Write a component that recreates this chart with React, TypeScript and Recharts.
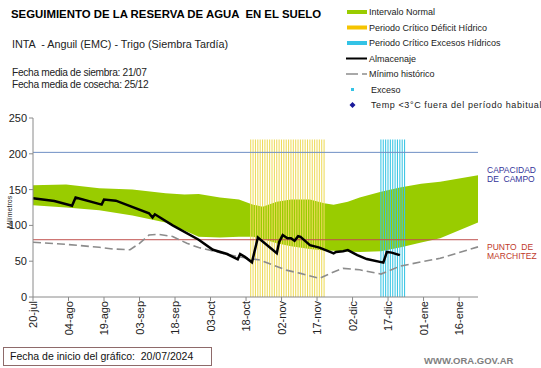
import React from "react";
import {
  ComposedChart,
  XAxis,
  YAxis,
  Area,
  Line,
  Bar,
  Cell,
  ReferenceLine,
} from "recharts";

// days counted from 20-jul
const tickDays = [0, 15, 30, 45, 60, 75, 90, 105, 120, 135, 150, 165, 180];
const tickLabels = [
  "20-jul", "04-ago", "19-ago", "03-sep", "18-sep", "03-oct", "18-oct",
  "02-nov", "17-nov", "02-dic", "17-dic", "01-ene", "16-ene",
];
const yTicks = [0, 50, 100, 150, 200, 250];

// intervalo normal (green band)
const bandDays = [0, 14, 28, 42, 56, 64, 70, 79, 87, 93, 97, 103, 109, 117, 123, 127, 133, 138, 147, 155, 164, 172, 188];
const bandHigh = [156, 157, 152, 150, 145, 143, 144, 139, 136, 129, 126, 133, 136, 136, 131, 129, 133, 139, 147, 153, 158, 161, 170];
const bandLow = [128, 125, 121, 114, 104, 93, 84, 83, 84, 84, 81, 75, 71, 67, 65, 64.5, 63.5, 63, 64, 69, 76, 82, 104];

// almacenaje
const storDays = [0, 9, 16.5, 18, 29, 30, 35, 49, 50.5, 51.5, 59, 70, 76, 82, 86.5, 87.5, 89.5, 92.5, 95, 103, 104, 105.5, 107.5, 109, 110.5, 112, 113, 117, 121, 125.5, 127, 128, 131, 133, 137, 141, 148, 149.5, 151.5, 155];
const storVals = [138, 134, 127.5, 139, 129, 136, 134.5, 117, 111, 115.5, 100, 80, 66, 60, 52.5, 60, 56, 48.5, 83, 61, 77, 86.5, 82, 82, 78.5, 85, 84, 72.5, 69, 63, 61, 63, 64, 65.5, 58.5, 53, 48, 63, 62, 58.5];

// minimo historico
const minDays = [0, 14, 28, 34, 41, 45, 49, 53, 59, 65, 70, 79, 87, 96, 107, 113, 121, 127, 131, 138, 147, 155, 164, 172, 188];
const minVals = [76.5, 73.5, 69.5, 67, 66, 75, 86.5, 87.5, 84.5, 75, 69, 62, 56, 51.5, 37.5, 33, 26, 35, 40, 38, 32, 43, 49, 54, 70];

// periodos criticos
const deficitPeriod = [92, 123];
const excessPeriod = [147, 157];
const periodTop = 220;

const capacidadCampo = 202;
const puntoMarchitez = 80;

type Row = {
  day: number;
  band?: [number, number];
  stor?: number;
  min?: number;
  period?: number;
  kind?: "deficit" | "excess";
};

function buildRows(): Row[] {
  const map = new Map<number, Row>();
  const get = (d: number) => {
    if (!map.has(d)) map.set(d, { day: d });
    return map.get(d)!;
  };
  bandDays.forEach((d, i) => (get(d).band = [bandLow[i], bandHigh[i]]));
  storDays.forEach((d, i) => (get(d).stor = storVals[i]));
  minDays.forEach((d, i) => (get(d).min = minVals[i]));
  for (let d = deficitPeriod[0]; d <= deficitPeriod[1]; d++) {
    get(d).period = periodTop;
    get(d).kind = "deficit";
  }
  for (let d = excessPeriod[0]; d <= excessPeriod[1]; d++) {
    get(d).period = periodTop;
    get(d).kind = "excess";
  }
  return Array.from(map.values()).sort((a, b) => a.day - b.day);
}

const rows = buildRows();

function DayTick(props: any) {
  const { x, y, payload } = props;
  const label = tickLabels[tickDays.indexOf(payload.value)];
  return (
    <g transform={`translate(${x},${y})`}>
      <text transform="rotate(-90)" x={2} dy={4} textAnchor="end" fontSize={11} fill="#222">
        {label}
      </text>
    </g>
  );
}

const legendRows = [
  { kind: "bar", color: "#99cc00", text: "Intervalo Normal" },
  { kind: "bar", color: "#f5c400", text: "Periodo Crítico Déficit Hídrico" },
  { kind: "bar", color: "#33c3e6", text: "Periodo Crítico Excesos Hídricos" },
  { kind: "line", color: "#000", text: "Almacenaje" },
  { kind: "dash", color: "#8c8c8c", text: "Mínimo histórico" },
  { kind: "dot", color: "#33c3e6", text: "Exceso" },
  { kind: "diamond", color: "#1a1a9a", text: "Temp <3°C fuera del período habitual" },
];

export default function App() {
  return (
    <div
      style={{
        position: "absolute",
        left: 0,
        top: 0,
        width: 541,
        height: 368,
        background: "#fff",
        overflow: "hidden",
        fontFamily: "'Liberation Sans', Arial, sans-serif",
      }}
    >
      <ComposedChart
        width={541}
        height={368}
        data={rows}
        margin={{ top: 118, right: 63, bottom: 21, left: 0 }}
      >
        <XAxis
          type="number"
          dataKey="day"
          domain={[0, 188]}
          ticks={tickDays}
          interval={0}
          height={50}
          tickSize={4}
          stroke="#8a8a8a"
          tick={<DayTick />}
        />
        <YAxis
          domain={[0, 250]}
          ticks={yTicks}
          width={33}
          tickSize={4}
          stroke="#8a8a8a"
          tick={{ fontSize: 11, fill: "#222" }}
        />
        <Area
          type="linear"
          dataKey="band"
          fill="#99cc00"
          fillOpacity={1}
          stroke="none"
          connectNulls
          isAnimationActive={false}
        />
        <Bar dataKey="period" barSize={1.2} isAnimationActive={false}>
          {rows.map((r, i) => (
            <Cell key={i} fill={r.kind === "excess" ? "#3cc6e4" : "#eedb5c"} />
          ))}
        </Bar>
        <ReferenceLine y={capacidadCampo} stroke="#6f8fc4" strokeWidth={1} />
        <ReferenceLine y={puntoMarchitez} stroke="#c0504d" strokeWidth={1} />
        <Line
          type="linear"
          dataKey="min"
          stroke="#8c8c8c"
          strokeWidth={1.6}
          strokeDasharray="8 4"
          dot={false}
          connectNulls
          isAnimationActive={false}
        />
        <Line
          type="linear"
          dataKey="stor"
          stroke="#000"
          strokeWidth={2.5}
          dot={false}
          connectNulls
          isAnimationActive={false}
        />
      </ComposedChart>

      <svg
        width={541}
        height={368}
        style={{ position: "absolute", left: 0, top: 0, pointerEvents: "none" }}
        fontFamily="'Liberation Sans', Arial, sans-serif"
      >
        <text x={11} y={18} fontSize={11.4} fontWeight="bold" fill="#000" style={{ whiteSpace: "pre" }}>
          SEGUIMIENTO DE LA RESERVA DE AGUA  EN EL SUELO
        </text>
        <text x={12} y={48} fontSize={10.8} fill="#222" style={{ whiteSpace: "pre" }}>
          INTA  - Anguil (EMC) - Trigo (Siembra Tardía)
        </text>
        <text x={12} y={75.5} fontSize={10.2} letterSpacing={-0.3} fill="#222">
          Fecha media de siembra: 21/07
        </text>
        <text x={12} y={88} fontSize={10.2} letterSpacing={-0.3} fill="#222">
          Fecha media de cosecha: 25/12
        </text>

        {legendRows.map((l, i) => {
          const cy = 12 + i * 15.5;
          let mark: React.ReactNode = null;
          if (l.kind === "bar") mark = <rect x={347} y={cy - 2} width={20} height={4} fill={l.color} />;
          if (l.kind === "line") mark = <line x1={346} x2={367} y1={cy} y2={cy} stroke={l.color} strokeWidth={2} />;
          if (l.kind === "dash")
            mark = (
              <g stroke={l.color} strokeWidth={1.5}>
                <line x1={346} x2={358} y1={cy} y2={cy} />
                <line x1={362} x2={367} y1={cy} y2={cy} />
              </g>
            );
          if (l.kind === "dot") mark = <rect x={351} y={cy - 1.5} width={3} height={3} fill={l.color} />;
          if (l.kind === "diamond")
            mark = <path d={`M352.5 ${cy - 3} L355.5 ${cy} L352.5 ${cy + 3} L349.5 ${cy} Z`} fill={l.color} />;
          return (
            <g key={i}>
              {mark}
              <text
                x={l.kind === "dot" || l.kind === "diamond" ? 371 : 369}
                y={cy + 3}
                fontSize={9}
                letterSpacing={l.kind === "diamond" ? 0.6 : 0}
                fill="#222"
              >
                {l.text}
              </text>
            </g>
          );
        })}

        <text transform="translate(11.5,212) rotate(-90)" textAnchor="middle" fontSize={7} fill="#222">
          Milímetros
        </text>

        <text x={487} y={173} fontSize={8.5} fill="#333399" style={{ whiteSpace: "pre" }}>CAPACIDAD</text>
        <text x={487} y={182} fontSize={8.5} fill="#333399" style={{ whiteSpace: "pre" }}>DE  CAMPO</text>
        <text x={487} y={250} fontSize={8.5} fill="#c0392b" style={{ whiteSpace: "pre" }}>PUNTO  DE</text>
        <text x={487} y={259} fontSize={8.5} fill="#c0392b" style={{ whiteSpace: "pre" }}>MARCHITEZ</text>

        <rect x={3.5} y={347.5} width={208} height={18} fill="none" stroke="#8e6a6a" strokeWidth={1} />
        <text x={10} y={360} fontSize={10.5} fill="#111" style={{ whiteSpace: "pre" }}>
          Fecha de inicio del gráfico:  20/07/2024
        </text>
        <text x={424} y={363.5} fontSize={9.5} fontWeight="bold" fill="#808080">
          WWW.ORA.GOV.AR
        </text>
      </svg>
    </div>
  );
}
